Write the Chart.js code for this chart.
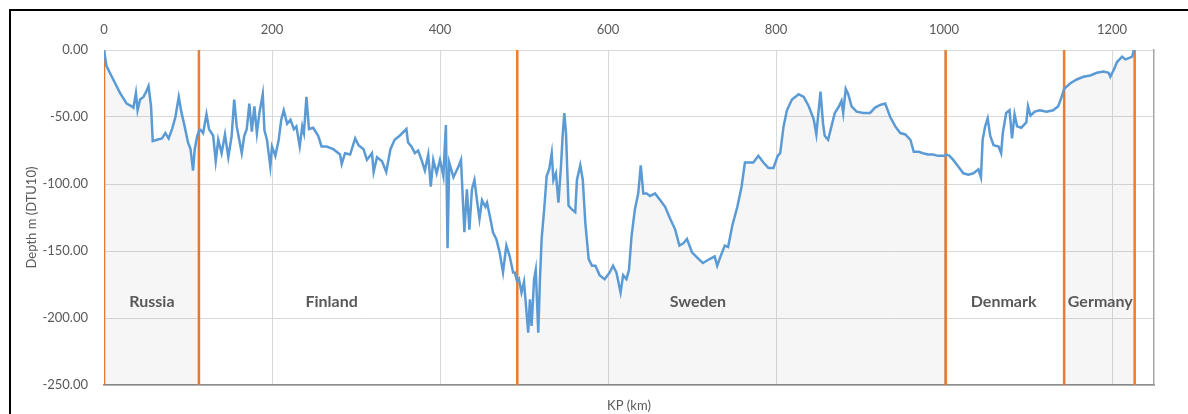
<!DOCTYPE html>
<html>
<head>
<meta charset="utf-8">
<script src="https://cdn.jsdelivr.net/npm/chart.js@4.4.0/dist/chart.umd.min.js"></script>
<style>
    html, body { margin: 0; padding: 0; background: #fff; }
    #wrap { position: relative; width: 1188px; height: 414px; }
    #frame { position: absolute; left: 9px; top: 9px; right: 0; bottom: 0;
             border-left: 2px solid #000; border-top: 2px solid #000; pointer-events: none; }
</style>
</head>
<body>
<div id="wrap">
    <canvas id="profile" width="1188" height="414"></canvas>
    <div id="frame"></div>
</div>
<script>
// Seabed profile along the route (KP in km, depth in m DTU10)
var kpValues = [
    0, 3, 11, 19, 27, 33, 35, 38, 40, 43, 47, 51, 53, 56, 58, 63, 69, 73, 77, 81,
    85, 89, 92, 96, 100, 103, 106, 108, 111, 114, 118, 122, 125, 130, 133, 136, 140, 144, 148, 152,
    155, 158, 161, 164, 167, 170, 173, 176, 179, 182, 185, 189, 191, 194, 198, 200, 204, 208, 211, 214,
    218, 222, 226, 229, 233, 236, 238, 241, 244, 249, 255, 259, 265, 273, 281, 283, 287, 293, 299, 303,
    309, 313, 319, 321, 325, 331, 336, 341, 346, 352, 360, 362, 366, 370, 374, 378, 382, 386, 389, 392,
    396, 400, 404, 407, 409, 411, 416, 422, 425, 427, 429, 432, 435, 438, 441, 444, 447, 450, 454, 456,
    460, 463, 467, 471, 475, 479, 483, 487, 489, 492, 494, 497, 500, 502, 505, 507, 509, 512, 514, 517,
    519, 521, 524, 527, 530, 533, 535, 538, 541, 544, 546, 548, 550, 553, 557, 561, 563, 567, 570, 573,
    577, 581, 585, 590, 596, 602, 606, 610, 615, 618, 622, 625, 628, 632, 636, 639, 642, 646, 650, 656,
    662, 668, 674, 680, 685, 690, 694, 700, 708, 713, 721, 727, 730, 734, 739, 743, 748, 754, 759, 763,
    767, 773, 779, 785, 791, 797, 802, 805, 809, 813, 819, 827, 833, 839, 845, 848, 850, 853, 856, 858,
    862, 866, 870, 875, 878, 880, 883, 886, 890, 896, 904, 912, 918, 924, 930, 936, 942, 948, 954, 960,
    964, 970, 975, 981, 987, 993, 999, 1005, 1011, 1017, 1023, 1029, 1035, 1041, 1044, 1046, 1049, 1052, 1055, 1059,
    1065, 1068, 1070, 1074, 1078, 1081, 1084, 1087, 1092, 1098, 1100, 1103, 1108, 1114, 1122, 1130, 1136, 1140, 1143, 1150,
    1158, 1166, 1174, 1182, 1190, 1196, 1198, 1202, 1206, 1212, 1216, 1220, 1224, 1226
];
var depthValues = [
    0, -12, -22, -32, -40, -42, -43, -32, -45, -37, -35, -30, -27, -42, -68, -67, -66, -62, -66, -59,
    -50, -35, -46, -57, -69, -74, -90, -74, -64, -59, -62, -48, -59, -64, -83, -67, -77, -63, -80, -64,
    -37, -57, -67, -77, -64, -59, -40, -61, -42, -62, -47, -33, -60, -67, -87, -72, -79, -67, -52, -45,
    -55, -52, -59, -57, -72, -57, -62, -35, -59, -58, -64, -72, -72, -74, -78, -85, -77, -78, -66, -71,
    -74, -82, -77, -91, -80, -83, -91, -74, -67, -64, -59, -69, -72, -77, -75, -82, -90, -78, -102, -82,
    -92, -82, -94, -56, -148, -84, -95, -87, -82, -109, -136, -104, -134, -104, -97, -112, -126, -112, -117, -114,
    -126, -136, -141, -151, -166, -146, -154, -166, -166, -173, -171, -181, -173, -188, -211, -186, -206, -171, -164, -211,
    -171, -141, -119, -94, -89, -77, -97, -92, -114, -87, -64, -47, -62, -116, -119, -121, -97, -86, -97, -129,
    -156, -161, -161, -168, -171, -166, -161, -166, -181, -168, -171, -164, -139, -119, -107, -86, -107, -107, -109, -107,
    -112, -117, -126, -134, -146, -144, -141, -151, -156, -159, -156, -154, -161, -154, -146, -147, -131, -117, -102, -84,
    -84, -84, -79, -84, -88, -88, -79, -77, -57, -45, -37, -33, -35, -42, -52, -63, -50, -31, -55, -64,
    -67, -57, -47, -42, -38, -47, -29, -33, -42, -46, -47, -47, -43, -41, -40, -50, -57, -62, -63, -67,
    -76, -76, -77, -78, -78, -79, -79, -78, -82, -87, -92, -93, -92, -89, -95, -67, -57, -51, -64, -71,
    -72, -77, -62, -47, -45, -66, -48, -57, -58, -54, -42, -49, -46, -45, -46, -45, -42, -35, -29, -25,
    -22, -20, -19, -17, -16, -17, -20, -15, -9, -5, -7, -6, -5, 0
];

// Country borders (KP) and the spans shaded below the profile
var borderKp = [0, 113, 492, 1002, 1143, 1227];
var shadedSpans = [[0, 113], [492, 1002], [1143, 1227]];

var countryNames = ['Russia', 'Finland', 'Sweden', 'Denmark', 'Germany'];
var countryLabelKp = [57, 271, 707, 1071, 1186];
var countryLabelDepth = -188;

var kpTicks = [0, 200, 400, 600, 800, 1000, 1200];

var FONT = 'Lato, "Open Sans", sans-serif';
var TEXT = '#595959';

function isShaded(kp) {
    for (var i = 0; i < shadedSpans.length; i++) {
        if (kp >= shadedSpans[i][0] && kp < shadedSpans[i][1]) return true;
    }
    return false;
}

var profilePoints = kpValues.map(function(k, i) { return { x: k, y: depthValues[i] }; });

var datasets = [{
    label: 'Depth',
    data: profilePoints,
    borderColor: '#5B9BD5',
    borderWidth: 2.5,
    pointRadius: 0,
    tension: 0,
    fill: 'start',
    backgroundColor: 'rgba(0,0,0,0)',
    segment: {
        backgroundColor: function(ctx) {
            return isShaded(ctx.p0.parsed.x) ? 'rgba(0,0,0,0.035)' : 'rgba(0,0,0,0)';
        }
    }
}];

borderKp.forEach(function(k) {
    datasets.push({
        label: 'border ' + k,
        data: [{ x: k, y: 0 }, { x: k, y: -250 }],
        borderColor: '#ED7D31',
        borderWidth: 2.5,
        pointRadius: 0,
        fill: false
    });
});

var countryLabelsPlugin = {
    id: 'countryLabels',
    afterDatasetsDraw: function(chart) {
        var ctx = chart.ctx;
        var xs = chart.scales.x, ys = chart.scales.y;
        ctx.save();
        ctx.font = 'bold 16px ' + FONT;
        ctx.fillStyle = TEXT;
        ctx.textAlign = 'center';
        ctx.textBaseline = 'middle';
        countryNames.forEach(function(name, i) {
            ctx.fillText(name, xs.getPixelForValue(countryLabelKp[i]), ys.getPixelForValue(countryLabelDepth));
        });
        ctx.restore();
    }
};

new Chart(document.getElementById('profile'), {
    type: 'line',
    data: { datasets: datasets },
    plugins: [countryLabelsPlugin],
    options: {
        responsive: false,
        animation: false,
        devicePixelRatio: 1,
        layout: { padding: 0 },
        plugins: {
            legend: { display: false },
            tooltip: { enabled: false }
        },
        scales: {
            x: {
                type: 'linear',
                position: 'top',
                min: 0,
                max: 1250,
                afterBuildTicks: function(scale) {
                    scale.ticks = kpTicks.map(function(v) { return { value: v }; });
                },
                afterFit: function(scale) { scale.height = 50; },
                grid: { color: '#d9d9d9', drawTicks: false },
                border: { display: false },
                ticks: {
                    color: TEXT,
                    font: { family: FONT, size: 13 },
                    padding: 12,
                    maxRotation: 0,
                    callback: function(v) { return String(v); }
                }
            },
            x2: {
                type: 'linear',
                position: 'bottom',
                min: 0,
                max: 1250,
                afterFit: function(scale) { scale.height = 29; },
                grid: { display: false, drawTicks: false },
                border: { display: true, color: '#8c8c8c', width: 1.5 },
                ticks: { display: false },
                title: { display: true, text: 'KP (km)', color: TEXT, font: { family: FONT, size: 13 }, padding: { top: 8, bottom: 0 } }
            },
            y: {
                min: -250,
                max: 0,
                afterFit: function(scale) { scale.width = 104; },
                grid: { color: '#d9d9d9', drawTicks: false },
                border: { display: false },
                ticks: {
                    stepSize: 50,
                    color: TEXT,
                    font: { family: FONT, size: 13 },
                    padding: 16,
                    callback: function(v) { return v.toFixed(2); }
                },
                title: { display: true, text: 'Depth m (DTU10)', color: TEXT, font: { family: FONT, size: 13 }, padding: { top: 24, bottom: 0 } }
            },
            y2: {
                position: 'right',
                min: -250,
                max: 0,
                afterFit: function(scale) { scale.width = 34; },
                grid: { display: false, drawTicks: false },
                border: { display: true, color: '#a6a6a6', width: 1.5 },
                ticks: { display: false }
            }
        }
    }
});
</script>
</body>
</html>
